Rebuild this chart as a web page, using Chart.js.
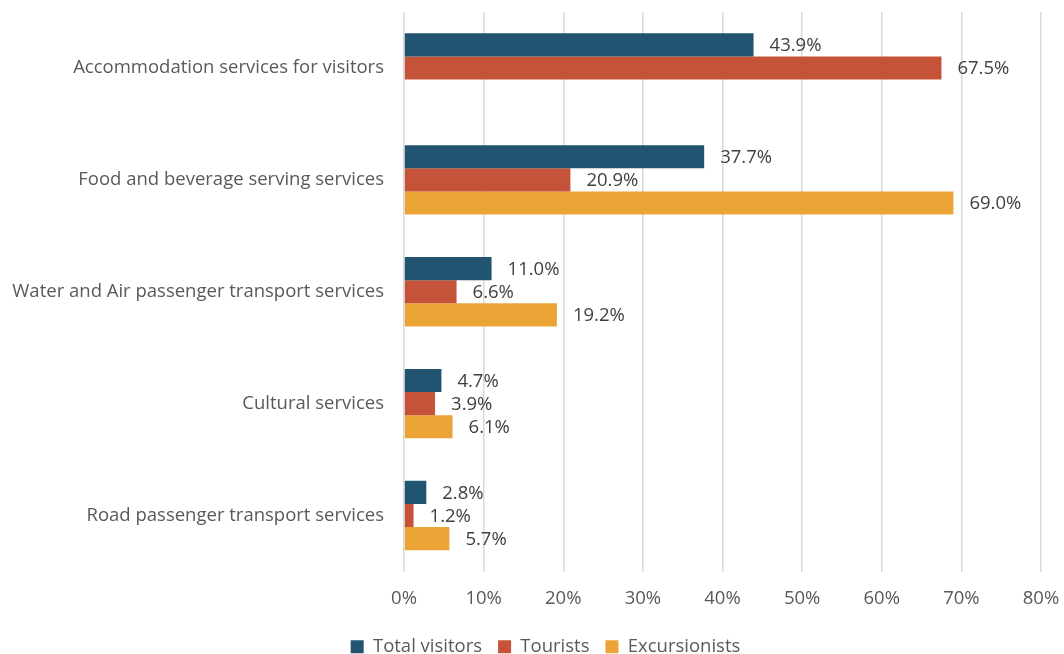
<!DOCTYPE html>
<html>
<head>
<meta charset="utf-8">
<script src="https://cdn.jsdelivr.net/npm/chart.js@4/dist/chart.umd.min.js"></script>
<style>
  html, body { margin: 0; padding: 0; background: #fff; }
  #wrap { width: 1064px; height: 654px; }
</style>
</head>
<body>
<div id="wrap"><canvas id="servicesChart"></canvas></div>
<script>
const categories = [
  'Accommodation services for visitors',
  'Food and beverage serving services',
  'Water and Air passenger transport services',
  'Cultural services',
  'Road passenger transport services'
];
const totalVisitors = [43.9, 37.7, 11.0, 4.7, 2.8];
const tourists = [67.5, 20.9, 6.6, 3.9, 1.2];
const excursionists = [null, 69.0, 19.2, 6.1, 5.7];
const xTicks = [0, 10, 20, 30, 40, 50, 60, 70, 80];

const FONT = "'Open Sans', sans-serif";
const SIZE = 18.5;

// value labels just past the end of each bar
const barLabels = {
  id: 'barLabels',
  afterDatasetsDraw(chart) {
    const ctx = chart.ctx;
    ctx.save();
    ctx.font = SIZE + 'px ' + FONT;
    ctx.fillStyle = '#404040';
    ctx.textAlign = 'left';
    ctx.textBaseline = 'middle';
    chart.data.datasets.forEach((ds, i) => {
      chart.getDatasetMeta(i).data.forEach((bar, j) => {
        const v = ds.data[j];
        if (v == null) return;
        ctx.fillText(v.toFixed(1) + '%', bar.x + 16, bar.y + 1);
      });
    });
    ctx.restore();
  }
};

// centre the legend a little right of the canvas middle
const legendShift = {
  id: 'legendShift',
  afterLayout(chart) {
    if (chart.legend) {
      chart.legend.left += 25;
      chart.legend.right += 25;
    }
  }
};

new Chart(document.getElementById('servicesChart'), {
  type: 'bar',
  data: {
    labels: categories,
    datasets: [
      { label: 'Total visitors', data: totalVisitors, backgroundColor: '#215470' },
      { label: 'Tourists', data: tourists, backgroundColor: '#C4533A' },
      { label: 'Excursionists', data: excursionists, backgroundColor: '#EDA437' }
    ]
  },
  options: {
    indexAxis: 'y',
    responsive: true,
    maintainAspectRatio: false,
    animation: false,
    categoryPercentage: 0.62,
    barPercentage: 1.0,
    layout: { padding: { top: 12, right: 23, left: 0, bottom: -12 } },
    scales: {
      x: {
        min: 0,
        max: 80,
        afterBuildTicks(scale) {
          scale.ticks = xTicks.map(v => ({ value: v }));
        },
        afterFit(scale) {
          scale.height = 50;
          scale.paddingLeft = 0;
          scale.paddingRight = 0;
        },
        grid: { color: '#d9d9d9', lineWidth: 1.5, drawTicks: false },
        border: { display: false },
        ticks: {
          padding: 16,
          color: '#595959',
          font: { family: FONT, size: SIZE },
          callback: v => v + '%'
        }
      },
      y: {
        afterFit(scale) {
          scale.width = 404;
          scale.paddingTop = 0;
          scale.paddingBottom = 0;
        },
        grid: { display: false, drawTicks: false },
        border: { display: false },
        ticks: {
          padding: 20,
          color: '#595959',
          font: { family: FONT, size: SIZE }
        }
      }
    },
    plugins: {
      legend: {
        position: 'bottom',
        labels: {
          color: '#595959',
          font: { family: FONT, size: SIZE },
          boxWidth: 13,
          boxHeight: 13,
          padding: 16
        }
      },
      tooltip: { enabled: false }
    }
  },
  plugins: [barLabels, legendShift]
});
</script>
</body>
</html>
